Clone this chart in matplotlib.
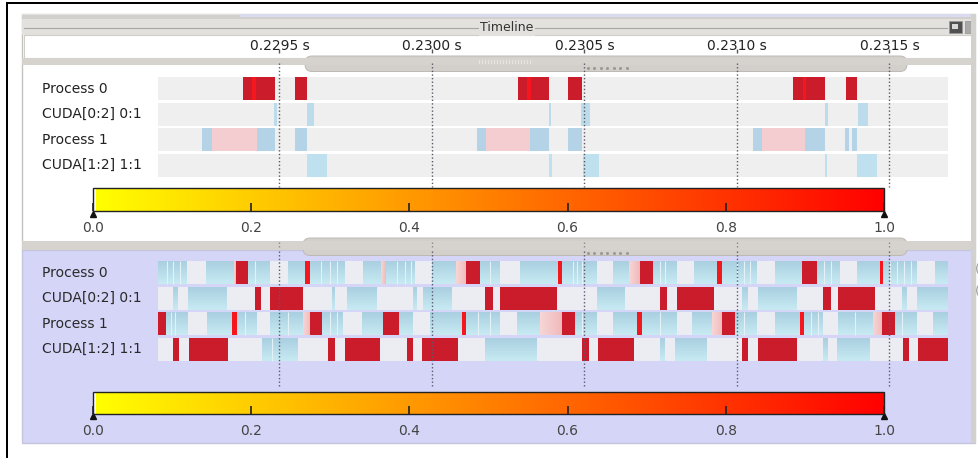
import numpy as np
import matplotlib
matplotlib.use("Agg")
import matplotlib.pyplot as plt
from matplotlib.patches import Rectangle, FancyBboxPatch, PathPatch
from matplotlib.path import Path
from matplotlib.colors import LinearSegmentedColormap, ListedColormap, Normalize
from matplotlib.cm import ScalarMappable
from matplotlib import transforms as mtrans

# ---------------- data ----------------
row_labels = ["Process 0", "CUDA[0:2] 0:1", "Process 1", "CUDA[1:2] 1:1"]
tick_times_us = [229500, 230000, 230500, 231000, 231500]
tick_labels = ["0.2295 s", "0.2300 s", "0.2305 s", "0.2310 s", "0.2315 s"]
view_start_us = 229102
view_end_us = 231692
cbar_ticks = [0.0, 0.2, 0.4, 0.6, 0.8, 1.0]
cbar_tick_labels = ["0.0", "0.2", "0.4", "0.6", "0.8", "1.0"]

# upper timeline, per row: (start_us, end_us)
top_red = [
    [(229380, 229485), (229551, 229590), (230282, 230384), (230446, 230462),
     (230463, 230492), (231184, 231289), (231358, 231394)],
    [], [], []]
top_hot = [
    [(229410, 229423), (230312, 230325), (231217, 231226)],
    [], [], []]
top_blue = [
    [],
    [(229482, 229492), (229590, 229613), (230384, 230390), (230489, 230518),
     (231289, 231299), (231397, 231430)],
    [(229246, 229279), (229426, 229485), (229551, 229590), (230148, 230177),
     (230321, 230384), (230446, 230492), (231053, 231082), (231223, 231289),
     (231354, 231367), (231377, 231394)],
    [(229590, 229656), (230384, 230394), (230495, 230548), (231289, 231295),
     (231394, 231459)]]
top_pink = [
    [], [],
    [(229279, 229426), (230177, 230321), (231082, 231223)],
    []]

# lower timeline: state boundaries (us) and state codes
# B = busy (blue), W = idle, R = hot, H = very hot, P = warm
low_bounds_p0 = [229102, 229131, 229151, 229174, 229197, 229259, 229351, 229357,
                 229397, 229420, 229469, 229528, 229584, 229600, 229636, 229666,
                 229689, 229715, 229774, 229833, 229849, 229885, 229912, 229931,
                 229944, 230000, 230079, 230112, 230157, 230190, 230223, 230289,
                 230413, 230426, 230462, 230476, 230492, 230541, 230594, 230646,
                 230682, 230725, 230748, 230764, 230803, 230859, 230935, 230951,
                 231000, 231023, 231043, 231066, 231125, 231213, 231263, 231285,
                 231308, 231338, 231394, 231469, 231479, 231502, 231525, 231548,
                 231571, 231590, 231649, 231692]
low_kinds_p0 = ("BBBBWBPRBBWBHBBBBWBPBBBBWBPRBBWBHBBBBWBPRBBBWBHBBBBWBRBBBWBHBBBBBWB")
low_bounds_c0 = [229102, 229151, 229167, 229200, 229328, 229420, 229439, 229469,
                 229577, 229672, 229682, 229721, 229820, 229938, 229951, 229971,
                 230066, 230174, 230200, 230223, 230410, 230541, 230633, 230748,
                 230771, 230803, 230925, 231017, 231036, 231069, 231197, 231282,
                 231308, 231331, 231453, 231541, 231558, 231590, 231692]
low_kinds_c0 = "WBWBWRWRWBWBWBWBWRWRWBWRWRWBWBWRWRWBWB"
low_bounds_p1 = [229102, 229128, 229144, 229157, 229200, 229262, 229344, 229361,
                 229387, 229426, 229469, 229528, 229577, 229600, 229639, 229666,
                 229689, 229708, 229771, 229839, 229892, 229938, 229994, 230098,
                 230112, 230151, 230190, 230223, 230279, 230354, 230426, 230469,
                 230492, 230541, 230594, 230672, 230689, 230748, 230803, 230853,
                 230918, 230951, 230994, 231023, 231066, 231125, 231207, 231220,
                 231243, 231266, 231282, 231331, 231387, 231446, 231476, 231518,
                 231541, 231590, 231643, 231692]
low_kinds_p1 = "RBBBWBHBBWBBPRBBBWBRBWBHBBBWBPRBBWBHBBWBPRBBWBHBBBWBBPRBBWB"
low_bounds_c1 = [229102, 229151, 229170, 229203, 229331, 229443, 229475, 229561,
                 229659, 229682, 229715, 229830, 229918, 229938, 229967, 230085,
                 230174, 230344, 230492, 230515, 230544, 230662, 230748, 230764,
                 230797, 230902, 231017, 231036, 231069, 231197, 231282, 231299,
                 231328, 231436, 231544, 231564, 231594, 231692]
low_kinds_c1 = "WRWRWBBWRWRWRWRWBWRWRWBWBWRWRWBWBWRWR"

low_bounds = [low_bounds_p0, low_bounds_c0, low_bounds_p1, low_bounds_c1]
low_kinds = [low_kinds_p0, low_kinds_c0, low_kinds_p1, low_kinds_c1]

# ---------------- style ----------------
W, H = 979, 458
C_RED = "#cb1c2c"
C_HOT = "#f5161e"
C_PINK = "#f3cdd0"
C_IDLE = "#ececf3"
C_ROWBG = "#efefef"
C_BLUE_TOP = ["#bcdcec", "#bcdcec", "#b5d3e6", "#bfe0ee"]
LAV = "#d5d5f8"
GRAYBAR = "#d6d3cf"

fig = plt.figure(figsize=(W / 100, H / 100), dpi=100)
fig.patch.set_facecolor("white")


def px_axes(x0, y0, x1, y1, z):
    ax = fig.add_axes([x0 / W, 1 - y1 / H, (x1 - x0) / W, (y1 - y0) / H])
    ax.set_zorder(z)
    return ax


# background / decoration axes in pixel units
bg = px_axes(0, 0, W, H, 0)
bg.set_xlim(0, W)
bg.set_ylim(H, 0)
bg.axis("off")


def rect(x0, y0, x1, y1, **kw):
    kw.setdefault("ec", "none")
    bg.add_patch(Rectangle((x0, y0), x1 - x0, y1 - y0, **kw))


# outer black frame
rect(7, 2, W, 4.3, fc="black")
rect(6, 2, 8.5, H, fc="black")

# upper panel
rect(22, 14, 975, 250, fc="white", ec="#c4c2be", lw=1)
rect(22, 14, 975, 35, fc="#e3e1dd")
rect(22, 15, 975, 19, fc="#d2d0cc")
rect(240, 14, 975, 16.5, fc="#dadaf0")
bg.plot([24, 947], [27.5, 27.5], color="#a9a7a3", lw=0.8)
bg.text(507, 27.5, "Timeline", ha="center", va="center", fontsize=9,
        color="#333333", bbox=dict(fc="#e3e1dd", ec="none", pad=1.2))
# window icons
rect(949, 21, 962, 33, fc="#505050", ec="#999999", lw=0.6)
rect(952, 24, 958, 29, fc="#d8d8d8")
rect(965, 21, 975, 33, fc="#a9a9a9", ec="#999999", lw=0.6)

# time tick strip
rect(24, 35, 972, 58, fc="white", ec="#d0cec9", lw=0.8)
# band with tab
bg.add_patch(FancyBboxPatch((305, 56), 602, 15.5,
                            boxstyle="round,pad=0,rounding_size=7",
                            fc="#d3d0cb", ec="#bdbab5", lw=0.7))
rect(22, 58, 975, 64.5, fc=GRAYBAR)
bg.plot(np.arange(588, 628, 6.5), [68] * 7, "s", ms=1.0, color="#9a9793")
for gx in np.arange(479, 533, 3):
    bg.plot([gx, gx], [59.5, 63], color="#ebe9e6", lw=0.6)

# lower panel
rect(22, 250, 975, 443, fc=LAV, ec="#c4c4dc", lw=1)
bg.add_patch(FancyBboxPatch((303, 238), 604, 17.5,
                            boxstyle="round,pad=0,rounding_size=7",
                            fc="#d3d0cb", ec="#bdbab5", lw=0.7))
rect(22, 241, 975, 250, fc=GRAYBAR)
bg.plot(np.arange(588, 628, 6.5), [253] * 7, "s", ms=1.0, color="#9a9793")
rect(971, 14, 976, 443, fc="#d3d1cd")
bg.text(977, 270, "(", fontsize=9, color="#9a9a9a", ha="center", va="center")
bg.text(977, 291, "(", fontsize=9, color="#9a9a9a", ha="center", va="center")

# ---------------- timeline rows ----------------
BAR_H = 0.9


def row_axes(y0, y1):
    ax = px_axes(158, y0, 948, y1, 2)
    ax.set_xlim(view_start_us, view_end_us)
    ax.set_ylim(len(row_labels) - 0.5, -0.5)
    ax.axis("off")
    ax.patch.set_visible(False)
    return ax


def segs(lst):
    return [(s, e - s) for s, e in lst]


ax_top = row_axes(76, 178)
for r in range(len(row_labels)):
    ax_top.broken_barh([(view_start_us, view_end_us - view_start_us)],
                       (r - BAR_H / 2, BAR_H), facecolors=C_ROWBG)
    ax_top.broken_barh(segs(top_pink[r]), (r - BAR_H / 2, BAR_H), facecolors=C_PINK)
    ax_top.broken_barh(segs(top_blue[r]), (r - BAR_H / 2, BAR_H),
                       facecolors=C_BLUE_TOP[r])
    ax_top.broken_barh(segs(top_red[r]), (r - BAR_H / 2, BAR_H), facecolors=C_RED)
    ax_top.broken_barh(segs(top_hot[r]), (r - BAR_H / 2, BAR_H), facecolors=C_HOT)

ax_low = row_axes(260, 362)
blue_grad = LinearSegmentedColormap.from_list("bg", ["#a9cfe0", "#c8ebf3"])
pink_grad = LinearSegmentedColormap.from_list("pg", ["#f7d6d6", "#f0b9bb"])
kind_colors = {"W": C_IDLE, "R": C_RED, "H": C_HOT}
grad = np.linspace(0, 1, 64).reshape(-1, 1)
for r, (b, k) in enumerate(zip(low_bounds, low_kinds)):
    assert len(b) == len(k) + 1, (r, len(b), len(k))
    y0, y1 = r - BAR_H / 2, r + BAR_H / 2
    for kind, col in kind_colors.items():
        sl = [(b[i], b[i + 1] - b[i]) for i, c in enumerate(k) if c == kind]
        ax_low.broken_barh(sl, (y0, BAR_H), facecolors=col)
    for kind, cmap, hgrad in (("B", blue_grad, False), ("P", pink_grad, True)):
        verts, codes = [], []
        for i, c in enumerate(k):
            if c == kind:
                s, e = b[i], b[i + 1]
                verts += [(s, y0), (e, y0), (e, y1), (s, y1), (s, y0)]
                codes += [Path.MOVETO, Path.LINETO, Path.LINETO, Path.LINETO,
                          Path.CLOSEPOLY]
        if not verts:
            continue
        clip = PathPatch(Path(verts, codes), transform=ax_low.transData,
                         fc="none", ec="none")
        ax_low.add_patch(clip)
        if hgrad:
            for i, c in enumerate(k):
                if c == kind:
                    im = ax_low.imshow(grad.T, extent=(b[i], b[i + 1], y1, y0),
                                       aspect="auto", cmap=cmap, origin="upper",
                                       interpolation="bilinear")
                    im.set_clip_path(clip)
        else:
            im = ax_low.imshow(grad, extent=(view_start_us, view_end_us, y1, y0),
                               aspect="auto", cmap=cmap, origin="upper",
                               interpolation="bilinear")
            im.set_clip_path(clip)
    seps = [b[i + 1] for i in range(len(k) - 1) if k[i] == "B" and k[i + 1] == "B"]
    ax_low.vlines(seps, y0, y1, colors="#e4f1f6", lw=0.8)
ax_low.set_xlim(view_start_us, view_end_us)
ax_low.set_ylim(len(row_labels) - 0.5, -0.5)

# row labels
for ax, col in ((ax_top, "#222222"), (ax_low, "#2a2a2a")):
    tr = mtrans.blended_transform_factory(bg.transData, ax.transData)
    for r, lab in enumerate(row_labels):
        bg.text(42, r, lab, transform=tr, ha="left", va="center",
                fontsize=10, color=col)

# ---------------- time axis (gridlines + labels) ----------------
ax_time = px_axes(158, 0, 948, H, 3)
ax_time.set_xlim(view_start_us, view_end_us)
ax_time.set_ylim(H, 0)
ax_time.axis("off")
ax_time.patch.set_visible(False)
dots = (0, (1, 1.6))
ax_time.vlines(tick_times_us, 63, 187, colors="#5a5a66", linestyles=dots, lw=1)
ax_time.vlines(tick_times_us, 242, 249, colors="#8a8a8a", linestyles=dots, lw=1)
ax_time.vlines(tick_times_us, 251, 386, colors="#5a5a70", linestyles=dots, lw=1)
ax_time.vlines(tick_times_us, 49, 53, colors="#555555", lw=1)
for t, lab in zip(tick_times_us, tick_labels):
    ax_time.text(t, 46, lab, ha="center", va="center", fontsize=10, color="#222222")

# ---------------- colour scales ----------------
base = plt.get_cmap("autumn_r")(np.linspace(0, 1, 256))
base[0] = (1, 1, 1, 1)
heat = ListedColormap(base)
for (y0, y1) in ((188, 211), (392, 414)):
    cax = px_axes(93, y0, 884, y1, 2)
    cb = fig.colorbar(ScalarMappable(norm=Normalize(0, 1), cmap=heat), cax=cax,
                      orientation="horizontal", ticks=cbar_ticks)
    cb.set_ticklabels(cbar_tick_labels)
    cb.outline.set_edgecolor("#222222")
    cb.outline.set_linewidth(1)
    cax.tick_params(axis="x", direction="in", length=6, width=1.2,
                    color="#222222", labelsize=10, labelcolor="#444444", pad=7)
    cax.plot([0, 1], [-0.11, -0.11], marker="^", ls="none", color="#111111",
             ms=4.5, clip_on=False, transform=cax.transAxes)

fig.savefig("out.png", dpi=100)
